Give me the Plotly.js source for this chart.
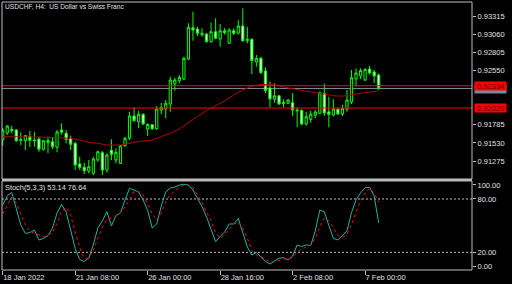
<!DOCTYPE html>
<html><head><meta charset="utf-8">
<script src="https://cdn.plot.ly/plotly-3.0.1.min.js"></script>
<style>html,body{margin:0;padding:0;background:#000;}#chart{width:512px;height:284px;}</style>
</head><body><div id="chart"></div>
<script>
// H4 bar times
const times = [
'18 Jan 16:00','18 Jan 20:00',
'19 Jan 00:00','19 Jan 04:00','19 Jan 08:00','19 Jan 12:00','19 Jan 16:00','19 Jan 20:00',
'20 Jan 00:00','20 Jan 04:00','20 Jan 08:00','20 Jan 12:00','20 Jan 16:00','20 Jan 20:00',
'21 Jan 00:00','21 Jan 04:00','21 Jan 08:00','21 Jan 12:00','21 Jan 16:00','21 Jan 20:00',
'24 Jan 00:00','24 Jan 04:00','24 Jan 08:00','24 Jan 12:00','24 Jan 16:00','24 Jan 20:00',
'25 Jan 00:00','25 Jan 04:00','25 Jan 08:00','25 Jan 12:00','25 Jan 16:00','25 Jan 20:00',
'26 Jan 00:00','26 Jan 04:00','26 Jan 08:00','26 Jan 12:00','26 Jan 16:00','26 Jan 20:00',
'27 Jan 00:00','27 Jan 04:00','27 Jan 08:00','27 Jan 12:00','27 Jan 16:00','27 Jan 20:00',
'28 Jan 00:00','28 Jan 04:00','28 Jan 08:00','28 Jan 12:00','28 Jan 16:00','28 Jan 20:00',
'31 Jan 00:00','31 Jan 04:00','31 Jan 08:00','31 Jan 12:00','31 Jan 16:00','31 Jan 20:00',
'1 Feb 00:00','1 Feb 04:00','1 Feb 08:00','1 Feb 12:00','1 Feb 16:00','1 Feb 20:00',
'2 Feb 00:00','2 Feb 04:00','2 Feb 08:00','2 Feb 12:00','2 Feb 16:00','2 Feb 20:00',
'3 Feb 00:00','3 Feb 04:00','3 Feb 08:00','3 Feb 12:00','3 Feb 16:00','3 Feb 20:00',
'4 Feb 00:00','4 Feb 04:00','4 Feb 08:00','4 Feb 12:00','4 Feb 16:00','4 Feb 20:00',
'7 Feb 00:00','7 Feb 04:00','7 Feb 08:00','7 Feb 12:00'];

const open = [0.91570,0.91669,0.91721,0.91711,0.91563,0.91560,0.91619,0.91570,0.91584,0.91439,
0.91532,0.91546,0.91468,0.91711,0.91665,0.91594,0.91524,0.91233,0.91186,0.91134,
0.91102,0.91289,0.91392,0.91148,0.91425,0.91289,0.91242,0.91490,0.91594,0.91908,
0.91828,0.91932,0.91725,0.91785,0.91729,0.91992,0.92006,0.92077,0.92358,0.92405,
0.92429,0.92710,0.93150,0.93132,0.93048,0.93062,0.92953,0.93094,0.92991,0.93108,
0.92931,0.93108,0.93072,0.93174,0.92967,0.92987,0.92668,0.92720,0.92541,0.92302,
0.92143,0.92193,0.92098,0.92087,0.92095,0.91992,0.91985,0.91795,0.91861,0.91918,
0.91946,0.92227,0.91968,0.91922,0.92002,0.91936,0.92002,0.92105,0.92429,0.92471,
0.92414,0.92569,0.92527,0.92485];
const high = [0.91739,0.91781,0.91771,0.91725,0.91679,0.91641,0.91697,0.91683,0.91617,0.91570,
0.91617,0.91603,0.91711,0.91805,0.91711,0.91631,0.91546,0.91335,0.91251,0.91289,
0.91335,0.91420,0.91415,0.91383,0.91580,0.91453,0.91500,0.91617,0.91968,0.92030,
0.91982,0.91946,0.91805,0.91795,0.92049,0.92095,0.92133,0.92461,0.92447,0.92485,
0.92742,0.93212,0.93375,0.93164,0.93142,0.93072,0.93221,0.93283,0.93202,0.93146,
0.93142,0.93142,0.93259,0.93423,0.93164,0.93001,0.92766,0.92742,0.92593,0.92391,
0.92368,0.92203,0.92143,0.92147,0.92227,0.92028,0.92002,0.91968,0.91982,0.91992,
0.92250,0.92365,0.92179,0.92143,0.92020,0.92063,0.92274,0.92555,0.92579,0.92579,
0.92579,0.92611,0.92559,0.92506];
const low = [0.91486,0.91641,0.91665,0.91546,0.91500,0.91430,0.91472,0.91476,0.91406,0.91420,
0.91383,0.91439,0.91397,0.91650,0.91524,0.91430,0.91148,0.91148,0.91092,0.91102,
0.91078,0.91265,0.91078,0.91110,0.91289,0.91242,0.91233,0.91476,0.91570,0.91828,
0.91735,0.91781,0.91627,0.91711,0.91711,0.91932,0.91876,0.91968,0.92264,0.92368,
0.92414,0.92696,0.92967,0.93034,0.93024,0.92942,0.92939,0.92987,0.92883,0.93052,
0.92921,0.93048,0.93057,0.92953,0.92931,0.92499,0.92602,0.92499,0.92227,0.92030,
0.92095,0.92063,0.92030,0.92077,0.91908,0.91749,0.91777,0.91774,0.91814,0.91876,
0.91936,0.91908,0.91749,0.91901,0.91922,0.91908,0.91968,0.92077,0.92323,0.92429,
0.92400,0.92492,0.92372,0.92274];
const close = [0.91711,0.91767,0.91701,0.91560,0.91577,0.91631,0.91566,0.91563,0.91439,0.91560,
0.91563,0.91476,0.91683,0.91679,0.91580,0.91510,0.91218,0.91186,0.91138,0.91195,
0.91303,0.91406,0.91148,0.91359,0.91369,0.91397,0.91490,0.91594,0.91908,0.91842,
0.91932,0.91795,0.91788,0.91729,0.92006,0.92030,0.92087,0.92414,0.92414,0.92452,
0.92720,0.93156,0.93118,0.93072,0.93072,0.92953,0.93094,0.93001,0.93108,0.93080,
0.93118,0.93072,0.93174,0.92967,0.92987,0.92686,0.92720,0.92517,0.92267,0.92147,
0.92193,0.92077,0.92087,0.92133,0.91992,0.91982,0.91795,0.91898,0.91936,0.91964,
0.92236,0.91950,0.91929,0.92006,0.91936,0.92016,0.92133,0.92447,0.92513,0.92548,
0.92565,0.92513,0.92471,0.92295];

// moving average read at selected bars
const maBars = [0,4,8,12,15,17,19,21,23,26,28,30,33,37,39,41,43,45,47,49,51,53,55,57,59,61,63,65,67,69,71,73,75,77,79,81,83];
const maVals = [0.91617,0.91617,0.91612,0.91605,0.91594,0.91570,0.91538,0.91524,0.91500,0.91500,
0.91524,0.91549,0.91570,0.91665,0.91725,0.91816,0.91901,0.91985,0.92056,0.92119,
0.92203,0.92274,0.92330,0.92351,0.92355,0.92337,0.92302,0.92278,0.92250,0.92236,
0.92217,0.92193,0.92187,0.92203,0.92227,0.92246,0.92262];

// Stochastic (5,3,3)
const stochK = [73.3,83.4,87.3,67.6,50.8,41.2,42.3,45.1,33.9,35.6,
38.9,47.4,64.3,73.8,65.4,45.1,24.3,11.9,9.7,13.6,
28.3,47.4,55.3,65.9,49.6,61.4,64.3,78.9,92.0,90.1,
87.9,78.9,67.1,47.4,51.9,72.1,87.9,92.4,93.5,95.7,
96.5,95.7,90.1,80.6,71.6,59.8,46.3,32.0,37.8,42.9,
51.9,51.9,58.1,42.9,26.0,17.0,19.8,14.8,9.9,6.9,
9.7,13.4,14.0,11.4,15.9,28.3,26.6,28.3,27.7,44.0,
67.6,65.6,50.2,35.8,33.9,38.4,44.0,64.8,78.9,86.7,
92.9,93.2,83.4,53.14];
const stochD = [63.1,72.7,82.2,75.5,62.0,50.8,44.0,41.2,39.5,37.6,
39.5,42.3,53.0,66.5,71.0,61.4,42.9,25.4,13.1,13.6,
22.6,36.1,48.5,56.9,58.3,60.3,64.8,71.0,78.9,88.4,
88.2,84.5,74.4,63.1,56.4,64.3,77.2,85.1,89.0,92.9,
95.7,95.7,92.9,85.1,76.1,65.4,55.3,42.3,35.8,40.1,
46.3,51.9,53.6,47.4,36.1,22.1,17.2,15.3,11.9,9.4,
9.4,11.0,12.5,12.7,14.2,20.4,23.8,26.0,27.7,36.1,
48.5,58.6,55.8,47.4,38.9,37.0,40.6,51.3,65.4,78.3,
86.7,92.0,86.7,76.64];

const priceTicks = [0.93315,0.93060,0.92805,0.92550,0.91785,0.91530,0.91275];
const hLines = [0.92334,0.92020];
const bid = 0.92295;
const stochLevels = [80,20];
const stochTickVals = [95.75,80,20,4.6];
const stochTickText = ['100.00','80.00','20.00','0.00'];
const xTickBars = [0,16,32,48,64,80];
const xTickText = ['18 Jan 2022','21 Jan 08:00','26 Jan 00:00','28 Jan 16:00','2 Feb 08:00','7 Feb 00:00'];

const FONT = 'Liberation Sans, Arial, sans-serif';
const TXT = '#e0e0e0';
const FRAME = '#c0c0c0';

const traces = [
 {type:'candlestick', x:times, open:open, high:high, low:low, close:close, xaxis:'x', yaxis:'y',
  increasing:{line:{color:'#00ff00',width:1}, fillcolor:'#000000'},
  decreasing:{line:{color:'#00ff00',width:1}, fillcolor:'#ffffff'},
  whiskerwidth:0, hoverinfo:'skip'},
 {type:'scatter', mode:'lines', x:maBars.map(i=>times[i]), y:maVals, xaxis:'x', yaxis:'y',
  line:{color:'#b40000',width:1}, hoverinfo:'skip'},
 {type:'scatter', mode:'lines', x:times, y:stochK, xaxis:'x', yaxis:'y2',
  line:{color:'#20b2aa',width:1}, hoverinfo:'skip'},
 {type:'scatter', mode:'lines', x:times, y:stochD, xaxis:'x', yaxis:'y2',
  line:{color:'#ff0000',width:1,dash:'dot'}, hoverinfo:'skip'}
];

const MAIN_DOM = [0.3396,1];
const ST_DOM = [0,0.3321];

const shapes = [];
shapes.push({type:'line',xref:'paper',x0:0,x1:1,yref:'y',y0:bid,y1:bid,line:{color:'#778899',width:1},layer:'below'});
hLines.forEach(v=>shapes.push({type:'line',xref:'paper',x0:0,x1:1,yref:'y',y0:v,y1:v,line:{color:'#ff0000',width:1},layer:'above'}));
stochLevels.forEach(v=>shapes.push({type:'line',xref:'paper',x0:0,x1:1,yref:'y2',y0:v,y1:v,line:{color:FRAME,width:1,dash:'2px,2px'},layer:'below'}));
shapes.push({type:'rect',xref:'paper',yref:'paper',x0:0,x1:1,y0:MAIN_DOM[0],y1:MAIN_DOM[1],line:{color:FRAME,width:1}});
shapes.push({type:'rect',xref:'paper',yref:'paper',x0:0,x1:1,y0:ST_DOM[0],y1:ST_DOM[1],line:{color:FRAME,width:1}});
shapes.push({type:'rect',xref:'paper',yref:'paper',x0:0,x1:1,y0:ST_DOM[1],y1:MAIN_DOM[0],fillcolor:'#b8b8b8',line:{width:0}});

const annotations = [
 {xref:'paper',yref:'paper',x:0,y:0.983,xanchor:'left',yanchor:'middle',xshift:1,showarrow:false,
  text:'USDCHF, H4:  US Dollar vs Swiss Franc',font:{family:FONT,size:6.6,color:TXT}},
 {xref:'paper',yref:'paper',x:0,y:0.3097,xanchor:'left',yanchor:'middle',xshift:1,showarrow:false,
  text:'Stoch(5,3,3) '+stochK[stochK.length-1].toFixed(2)+' '+stochD[stochD.length-1].toFixed(2),font:{family:FONT,size:7.4,color:TXT}},
 // bid price label, mostly hidden behind the red line label as in the reference
 {xref:'paper',yref:'y',x:1,y:bid,xanchor:'left',yanchor:'middle',xshift:2,showarrow:false,
  text:' ',width:31,height:8,bgcolor:'#778899',borderpad:0,font:{family:FONT,size:7.5,color:'#778899'}}
];
hLines.forEach(v=>annotations.push({xref:'paper',yref:'y',x:1,y:v,xanchor:'left',yanchor:'middle',xshift:2,showarrow:false,
  text:v.toFixed(5),width:31,height:8,bgcolor:'#ff0000',borderpad:0,font:{family:FONT,size:7.5,color:'#5a0000'}}));

const axFont = {family:FONT,size:7.5,color:TXT};
const layout = {
 width:512,height:284,margin:{l:2,r:40,t:2,b:14,pad:0},
 paper_bgcolor:'#000000',plot_bgcolor:'#000000',showlegend:false,
 xaxis:{type:'category',range:[-0.155,103.6],anchor:'y2',rangeslider:{visible:false},
  showgrid:false,zeroline:false,showline:false,ticks:'outside',ticklen:4,tickwidth:1,tickcolor:FRAME,
  tickvals:xTickBars.map(i=>times[i]),ticktext:xTickText,ticklabelposition:'outside right',tickfont:axFont,fixedrange:true},
 yaxis:{domain:MAIN_DOM,range:[0.91022,0.93512],side:'right',anchor:'x',showgrid:false,zeroline:false,showline:false,
  ticks:'outside',ticklen:3,tickwidth:1,tickcolor:FRAME,tickvals:priceTicks,tickformat:'.5f',tickfont:axFont,fixedrange:true},
 yaxis2:{domain:ST_DOM,range:[0.135,100.25],side:'right',anchor:'x',showgrid:false,zeroline:false,showline:false,
  ticks:'outside',ticklen:3,tickwidth:1,tickcolor:FRAME,tickvals:stochTickVals,ticktext:stochTickText,tickfont:axFont,fixedrange:true},
 shapes:shapes,annotations:annotations
};
Plotly.newPlot('chart',traces,layout,{staticPlot:true,displayModeBar:false});
</script></body></html>
